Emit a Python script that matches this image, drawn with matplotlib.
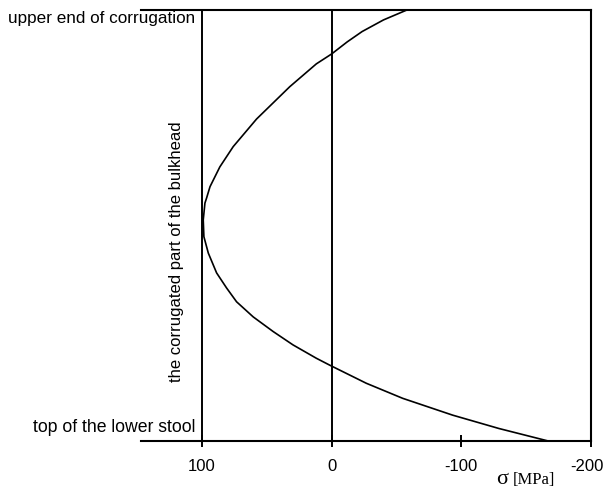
import matplotlib
matplotlib.use("Agg")
import matplotlib.pyplot as plt
import matplotlib.transforms as mtransforms

# position along the corrugation (0 = top of lower stool, 1 = upper end)
position = [1.000, 0.977, 0.950, 0.926, 0.898, 0.875, 0.822, 0.747, 0.683,
            0.636, 0.590, 0.564, 0.552, 0.513, 0.474, 0.436, 0.390, 0.355,
            0.323, 0.288, 0.254, 0.223, 0.192, 0.176, 0.134, 0.099, 0.060,
            0.029, 0.000]
# stress sigma [MPa]
sigma = [-58, -40, -23.5, -12, 0, 11.8, 32.3, 57.9, 75.9,
         86.2, 93.8, 96.4, 97.7, 99.0, 98.5, 95.1, 88.7, 81.0,
         73.3, 60.5, 45.1, 29.8, 11.8, 1.5, -26.7, -54.8, -93.3,
         -129, -167]

xticks = [100, 0, -100, -200]
xtick_labels = ["100", "0", "-100", "-200"]
top_label = "upper end of corrugation"
bottom_label = "top of the lower stool"
side_label = "the corrugated part of the bulkhead"

plt.rcParams['font.family'] = ['Liberation Sans', 'DejaVu Sans']

W, H = 606, 488
fig = plt.figure(figsize=(W / 100, H / 100), dpi=100)
left, right, top, bottom = 141, 591, 10, 441
ax = fig.add_axes([left / W, 1 - bottom / H, (right - left) / W, (bottom - top) / H])

ax.plot(sigma, position, color='black', lw=1.2)
ax.set_xlim(147, -200)
ax.set_ylim(0, 1)

ax.axvline(100, color='black', lw=1.4)
ax.axvline(0, color='black', lw=1.4)

for s in ['top', 'bottom', 'right']:
    ax.spines[s].set_linewidth(1.5)
ax.spines['left'].set_visible(False)

ax.set_xticks(xticks)
ax.set_xticklabels(xtick_labels, fontsize=12)
ax.tick_params(axis='x', direction='inout', length=8, width=1.4, pad=9)
ax.set_yticks([])
# nudge the last tick label so it stays inside the image
last = ax.get_xticklabels()[-1]
last.set_transform(last.get_transform() +
                   mtransforms.ScaledTranslation(-4 / 100, 0, fig.dpi_scale_trans))

fig.text(195 / W, 1 - 18 / H, top_label, ha='right', va='center', fontsize=12.3)
fig.text(195 / W, 1 - 428 / H, bottom_label, ha='right', va='center', fontsize=12.7)
fig.text(176 / W, 1 - 252 / H, side_label, ha='center', va='center',
         rotation=90, fontsize=12)

fig.text(496 / W, 1 - 479 / H, "σ", ha='left', va='center', fontsize=16,
         family=['Liberation Serif', 'DejaVu Serif'])
fig.text(513 / W, 1 - 480 / H, "[MPa]", ha='left', va='center', fontsize=12,
         family=['Liberation Serif', 'DejaVu Serif'])

fig.savefig("out.png", dpi=100)
